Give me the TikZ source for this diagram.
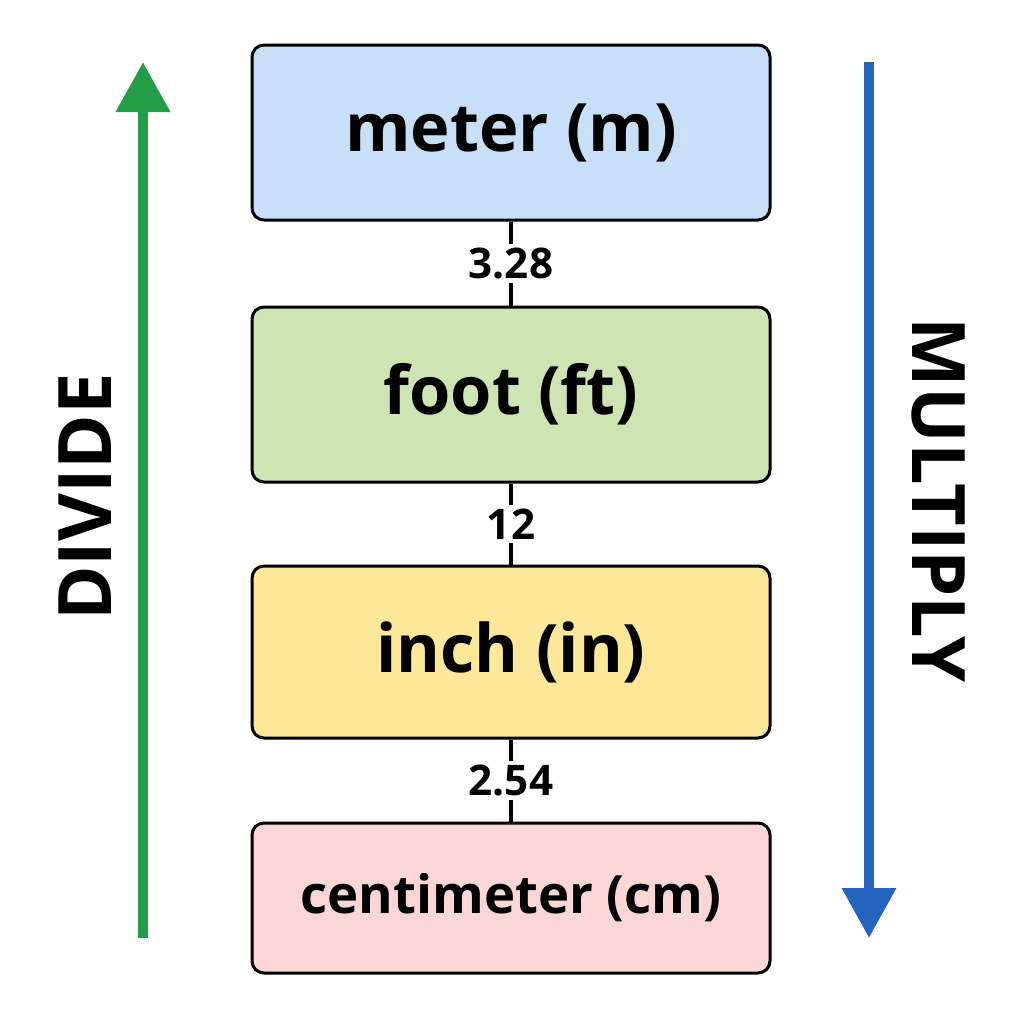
\documentclass[tikz,border=0pt]{standalone}
\usepackage{fontspec}
\setmainfont{Open Sans}
\usepackage{tikz}
\usetikzlibrary{shapes,calc,positioning,arrows.meta}

\definecolor{meterfill}{RGB}{199,224,247}
\definecolor{footfill}{RGB}{206,228,178}
\definecolor{inchfill}{RGB}{253,231,152}
\definecolor{cmfill}{RGB}{250,214,214}
\definecolor{divgreen}{RGB}{35,158,72}
\definecolor{mulblue}{RGB}{36,100,190}

\tikzset{
    unitbox/.style={
        rectangle,
        rounded corners=0.12cm,
        draw=black,
        line width=0.03cm,
        minimum width=5.18cm,
        font=\fontsize{19}{22}\selectfont\bfseries,
    },
    factor/.style={
        fill=white,
        inner sep=1pt,
        font=\fontsize{12}{14}\selectfont\bfseries,
    },
}

\begin{document}
\begin{tikzpicture}

    \useasboundingbox (0,0) rectangle (10.24,-10.24);

    \node
        [ unitbox,
            fill=meterfill,
            minimum height=1.75cm,
        ] (m) at (5.11,-1.325) {meter (m)};

    \node
        [ unitbox,
            fill=footfill,
            minimum height=1.75cm,
            below=0.84cm of m,
        ] (ft) {foot (ft)};

    \node
        [ unitbox,
            fill=inchfill,
            minimum height=1.72cm,
            below=0.81cm of ft,
        ] (in) {inch (in)};

    \node
        [ unitbox,
            fill=cmfill,
            minimum height=1.5cm,
            below=0.82cm of in,
            font=\fontsize{15}{18}\selectfont\bfseries,
        ] (cm) {centimeter (cm)};

    \draw [line width=0.035cm] (m.south) -- node [factor] {3.28} (ft.north);
    \draw [line width=0.035cm] (ft.south) -- node [factor] {12} (in.north);
    \draw [line width=0.035cm] (in.south) -- node [factor] {2.54} (cm.north);

    \coordinate (div-start) at (1.43,-9.38);
    \coordinate (div-end) at (1.43,-0.62);
    \coordinate (mul-start) at (8.69,-0.62);
    \coordinate (mul-end) at (8.69,-9.38);

    \draw
        [ divgreen,
            line width=0.1cm,
            -{Triangle[length=0.5cm,width=0.52cm]},
        ] (div-start) -- (div-end);

    \draw
        [ mulblue,
            line width=0.1cm,
            -{Triangle[length=0.5cm,width=0.52cm]},
        ] (mul-start) -- (mul-end);

    \node
        [ rotate=90,
            font=\fontsize{21}{24}\selectfont\bfseries,
        ] (divide) at (0.85,-4.97) {DIVIDE};

    \node
        [ rotate=-90,
            font=\fontsize{21}{24}\selectfont\bfseries,
        ] (multiply) at (9.38,-5.0) {MULTIPLY};

\end{tikzpicture}
\end{document}
